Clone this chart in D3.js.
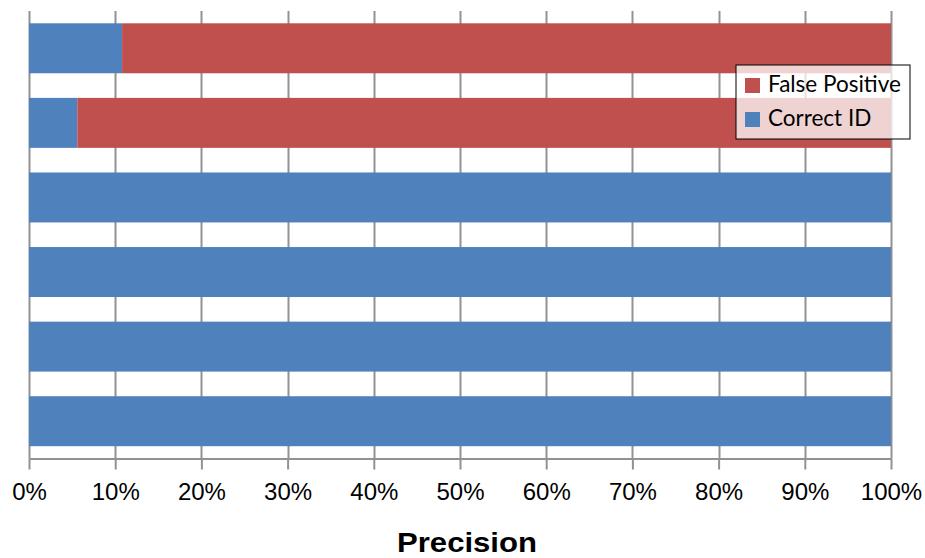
<!DOCTYPE html>
<html>
<head>
<meta charset="utf-8">
<script src="https://cdn.jsdelivr.net/npm/d3@7"></script>
<style>
  html, body { margin: 0; padding: 0; background: #fff; }
  svg { display: block; }
</style>
</head>
<body>
<svg id="chart" width="925" height="558"></svg>
<script>
// Six identification runs, shown top to bottom, as share of each outcome
const runs = ["Run 1", "Run 2", "Run 3", "Run 4", "Run 5", "Run 6"];
const correctId = [10.8, 5.6, 100, 100, 100, 100];
const falsePositive = [89.2, 94.4, 0, 0, 0, 0];
const tickValues = [0, 10, 20, 30, 40, 50, 60, 70, 80, 90, 100];
const seriesNames = ["Correct ID", "False Positive"];
const seriesColors = ["#4f81bd", "#c0504d"];

const svg = d3.select("#chart");
const margin = { left: 29, right: 34, top: 11, bottom: 100 };
const width = 925, height = 558;
const plotBottom = height - margin.bottom + 0.5;

const x = d3.scaleLinear().domain([0, 100]).range([margin.left, width - margin.right]);
const y = d3.scaleBand().domain(runs).range([margin.top, plotBottom]).paddingInner(0.33).paddingOuter(0.165);

const rows = runs.map((r, i) => ({ run: r, "Correct ID": correctId[i], "False Positive": falsePositive[i] }));
const stacked = d3.stack().keys(seriesNames)(rows);
const color = d3.scaleOrdinal().domain(seriesNames).range(seriesColors);

// vertical gridlines
svg.append("g")
  .selectAll("line")
  .data(tickValues)
  .join("line")
  .attr("x1", d => Math.round(x(d)) + 0.5)
  .attr("x2", d => Math.round(x(d)) + 0.5)
  .attr("y1", margin.top)
  .attr("y2", plotBottom)
  .attr("stroke", "#929292")
  .attr("stroke-width", 2);

// stacked bars
svg.append("g")
  .selectAll("g")
  .data(stacked)
  .join("g")
  .attr("fill", d => color(d.key))
  .selectAll("rect")
  .data(d => d)
  .join("rect")
  .attr("x", d => x(d[0]))
  .attr("width", d => x(d[1]) - x(d[0]))
  .attr("y", d => y(d.data.run))
  .attr("height", y.bandwidth());

// bottom axis
const axis = svg.append("g")
  .attr("transform", `translate(0,${plotBottom})`)
  .call(d3.axisBottom(x).tickValues(tickValues).tickFormat(d => d + "%").tickSize(11).tickSizeOuter(0));
axis.select(".domain").attr("stroke", "#929292").attr("stroke-width", 2);
axis.selectAll(".tick line").attr("stroke", "#929292").attr("stroke-width", 2);
axis.selectAll(".tick text")
  .attr("y", 24)
  .attr("font-family", "'Liberation Sans', Arial, sans-serif")
  .attr("font-size", 24)
  .attr("fill", "#000");

// axis title
svg.append("text")
  .attr("x", (x(0) + x(100)) / 2 + 7)
  .attr("y", 552)
  .attr("text-anchor", "middle")
  .attr("font-family", "'Liberation Sans', Arial, sans-serif")
  .attr("font-weight", "bold")
  .attr("font-size", 28)
  .attr("textLength", 140)
  .attr("lengthAdjust", "spacingAndGlyphs")
  .attr("fill", "#000")
  .text("Precision");

// legend
const legend = svg.append("g").attr("transform", "translate(736,65)");
legend.append("rect")
  .attr("x", 0).attr("y", 0)
  .attr("width", 174).attr("height", 74)
  .attr("fill", "#fff").attr("fill-opacity", 0.75)
  .attr("stroke", "#000").attr("stroke-width", 1);
const legendItems = ["False Positive", "Correct ID"];
legendItems.forEach((name, i) => {
  const gy = 13 + i * 34;
  legend.append("rect")
    .attr("x", 9).attr("y", gy)
    .attr("width", 15).attr("height", 15)
    .attr("fill", color(name));
  legend.append("text")
    .attr("x", 32).attr("y", gy + 14)
    .attr("font-family", "Lato, 'Noto Sans', sans-serif")
    .attr("font-size", 22.5)
    .attr("fill", "#000")
    .text(name);
});
</script>
</body>
</html>
